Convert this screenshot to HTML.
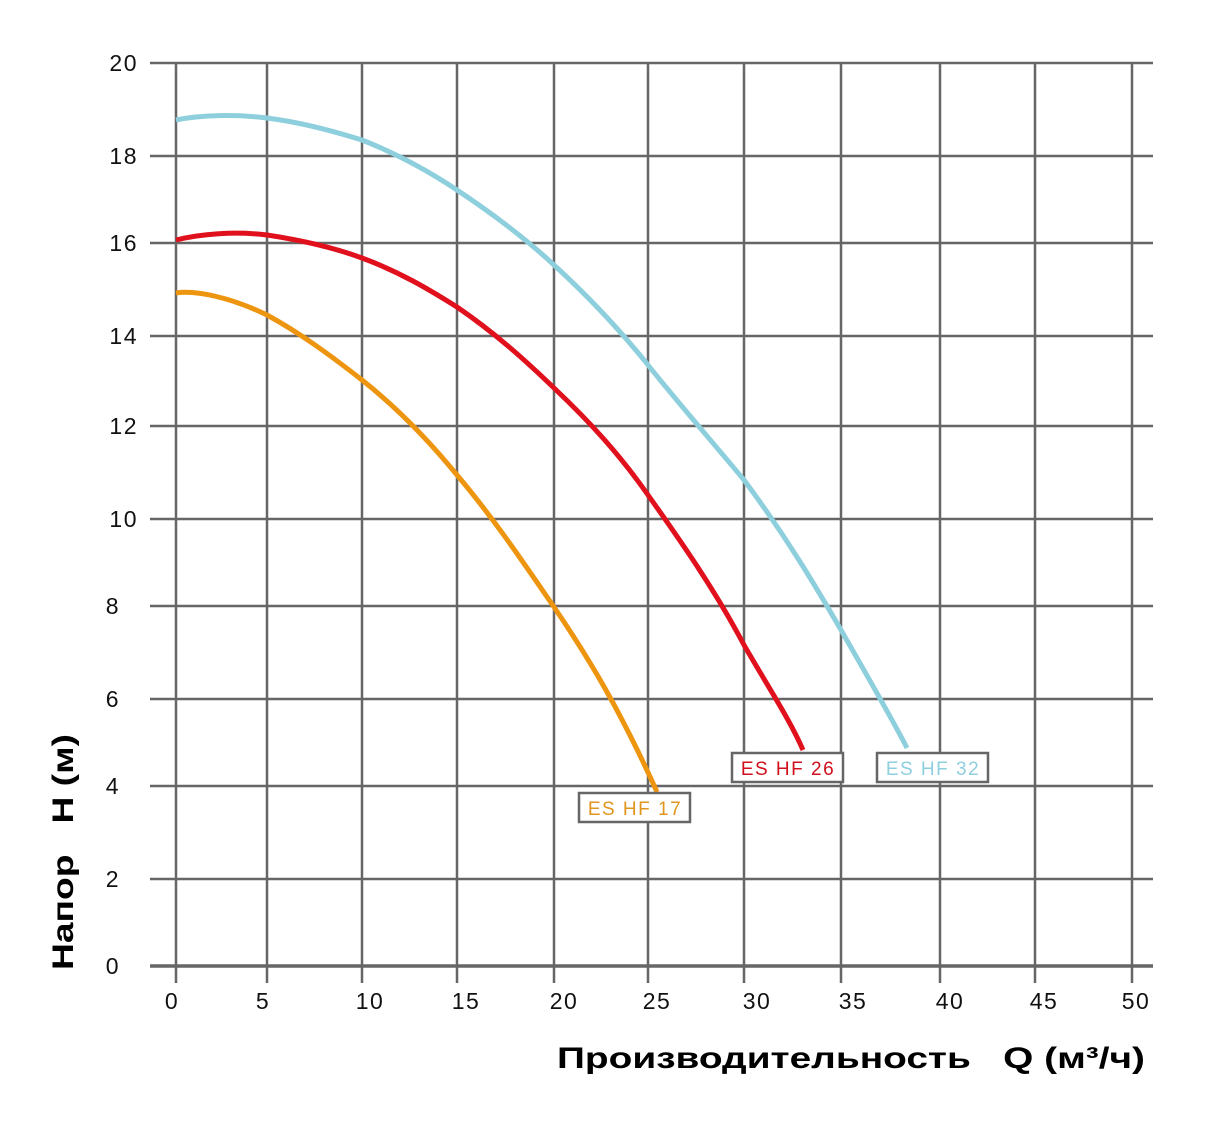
<!DOCTYPE html>
<html><head><meta charset="utf-8"><style>body{margin:0;background:#fff}</style></head><body>
<svg width="1218" height="1132" xmlns="http://www.w3.org/2000/svg" font-family="Liberation Sans, sans-serif">
<g stroke="#666" stroke-width="2.5">
<line x1="150" y1="63" x2="1153" y2="63"/><line x1="150" y1="156" x2="1153" y2="156"/><line x1="150" y1="243" x2="1153" y2="243"/><line x1="150" y1="336" x2="1153" y2="336"/><line x1="150" y1="426" x2="1153" y2="426"/><line x1="150" y1="519" x2="1153" y2="519"/><line x1="150" y1="606" x2="1153" y2="606"/><line x1="150" y1="699" x2="1153" y2="699"/><line x1="150" y1="786" x2="1153" y2="786"/><line x1="150" y1="879" x2="1153" y2="879"/><line x1="150" y1="966" x2="1153" y2="966" stroke-width="3.5"/>
<line x1="176" y1="63" x2="176" y2="983"/><line x1="267" y1="63" x2="267" y2="983"/><line x1="362" y1="63" x2="362" y2="983"/><line x1="457" y1="63" x2="457" y2="983"/><line x1="554" y1="63" x2="554" y2="983"/><line x1="648" y1="63" x2="648" y2="983"/><line x1="744" y1="63" x2="744" y2="983"/><line x1="841" y1="63" x2="841" y2="983"/><line x1="940" y1="63" x2="940" y2="983"/><line x1="1035" y1="63" x2="1035" y2="983"/><line x1="1132" y1="63" x2="1132" y2="983"/>
</g>
<g font-size="23" fill="#111" text-anchor="end" letter-spacing="1.5">
<text x="138" y="71">20</text><text x="138" y="164">18</text><text x="138" y="251">16</text><text x="138" y="344">14</text><text x="138" y="434">12</text><text x="138" y="527">10</text><text x="120" y="614">8</text><text x="120" y="707">6</text><text x="120" y="794">4</text><text x="120" y="887">2</text><text x="120" y="974">0</text>
</g>
<g font-size="23" fill="#111" text-anchor="middle" letter-spacing="1.5">
<text x="172" y="1009">0</text><text x="263" y="1009">5</text><text x="370" y="1009">10</text><text x="466" y="1009">15</text><text x="564" y="1009">20</text><text x="657" y="1009">25</text><text x="757" y="1009">30</text><text x="853" y="1009">35</text><text x="950" y="1009">40</text><text x="1044" y="1009">45</text><text x="1136" y="1009">50</text>
</g>
<text x="557" y="1068" font-size="30" font-weight="bold" fill="#000" textLength="588" lengthAdjust="spacingAndGlyphs">Производительность&#160;&#160;&#160;Q (м³/ч)</text>
<text transform="translate(73,970) rotate(-90)" font-size="30" font-weight="bold" fill="#000" textLength="236" lengthAdjust="spacingAndGlyphs">Напор&#160;&#160;&#160;H (м)</text>
<g fill="none" stroke-width="5" stroke-linecap="butt">
<path d="M176,120 C200,115 235,114 267,118 S330,130 362,140 C400,155 430,172 457,190 C490,212 525,238 554,265 C590,298 620,330 648,365 C680,405 715,445 744,480 C785,535 815,585 841,630 C865,672 890,715 907,748" stroke="#8ecfdd"/>
<path d="M176,240 C200,234 235,231 267,235 C300,240 335,248 362,258 C400,272 430,290 457,307 C495,333 525,360 554,388 C590,422 620,455 648,495 C680,540 715,590 744,645 C770,690 790,720 803,750" stroke="#e0101c"/>
<path d="M176,293 C195,290 230,297 267,315 C300,333 330,355 362,380 C400,410 430,442 457,475 C495,520 525,565 554,607 C590,660 620,710 657,792" stroke="#ee9510"/>
</g>
<g stroke="#666" stroke-width="2.5" fill="#fff">
<rect x="732" y="753" width="111" height="29"/><rect x="877" y="753" width="111" height="29"/><rect x="579" y="793" width="111" height="29"/>
</g>
<g font-size="19" text-anchor="middle" letter-spacing="1.5">
<text x="788" y="775" fill="#d0101c">ES HF 26</text>
<text x="933" y="775" fill="#8ecfdd">ES HF 32</text>
<text x="635" y="815" fill="#e0951c">ES HF 17</text>
</g>
</svg>
</body></html>
